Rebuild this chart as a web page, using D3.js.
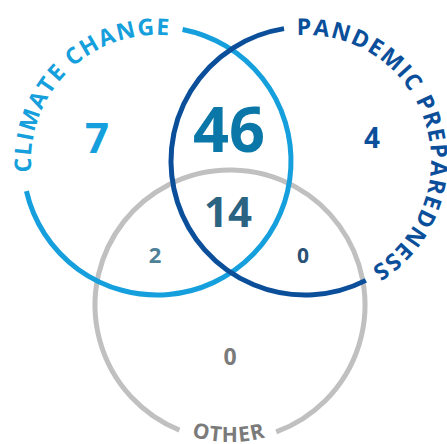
<!DOCTYPE html>
<meta charset="utf-8">
<style>
body { margin: 0; background: #fff; }
svg { display: block; }
.set-label { font-family: "Open Sans", sans-serif; font-weight: 700; }
.count { font-family: "Open Sans", sans-serif; font-weight: 700; text-anchor: middle; }
</style>
<svg width="447" height="444"></svg>
<script src="https://d3js.org/d3.v7.min.js"></script>
<script>
// sets and region counts
var setNames = ["CLIMATE CHANGE", "PANDEMIC PREPAREDNESS", "OTHER"];
var setColors = ["#159fdc", "#0b4f9b", "#c0c0c0"];
var labelColors = ["#159fdc", "#0b4f9b", "#7a7a7a"];
var regionKeys = ["C", "P", "O", "CP", "CO", "PO", "CPO"];
var regionCounts = [7, 4, 0, 46, 2, 0, 14];

var svg = d3.select("svg");
var deg = Math.PI / 180;

// circle geometry (centre, radius, gap in the ring where the label sits)
var circles = [
  {cx: 157, cy: 161, r: 134, gap: [167, 281], text: [225.5, -8], cw: true},
  {cx: 305, cy: 161, r: 134, gap: [261, 423], text: [342.5, -8], cw: true},
  {cx: 230, cy: 305, r: 135, gap: [70, 112], text: [90.5, 2], cw: false}
];

// where each region's number goes, and how big
var regionLayout = {
  C:   {x: 97,  y: 153, size: 42, color: "#159fdc"},
  P:   {x: 372, y: 148, size: 28, color: "#0b4f9b"},
  O:   {x: 230, y: 365, size: 23, color: "#7b7b7b"},
  CP:  {x: 229, y: 152, size: 63, color: "#0a77a8"},
  CO:  {x: 155, y: 263, size: 22, color: "#4e8198"},
  PO:  {x: 303, y: 263, size: 21, color: "#2a5276"},
  CPO: {x: 228, y: 227, size: 42, color: "#2b6382"}
};

var order = [2, 0, 1]; // grey under, dark blue on top

order.forEach(function(i) {
  var c = circles[i];
  var p = d3.path();
  p.arc(c.cx, c.cy, c.r, c.gap[1] * deg, (c.gap[0] + 360) * deg, false);
  svg.append("path")
      .attr("d", p.toString())
      .attr("fill", "none")
      .attr("stroke", setColors[i])
      .attr("stroke-width", 5);
});

circles.forEach(function(c, i) {
  var rb = c.r + c.text[1];
  var p = d3.path();
  if (c.cw) {
    p.arc(c.cx, c.cy, rb, (c.text[0] - 90) * deg, (c.text[0] + 90) * deg, false);
  } else {
    p.arc(c.cx, c.cy, rb, (c.text[0] + 90) * deg, (c.text[0] - 90) * deg, true);
  }
  svg.append("path")
      .attr("id", "lp" + i)
      .attr("d", p.toString())
      .attr("fill", "none");
  svg.append("text")
      .attr("class", "set-label")
      .attr("font-size", i == 2 ? 21 : 23)
      .attr("letter-spacing", i == 2 ? 1 : 1.5)
      .attr("fill", labelColors[i])
    .append("textPath")
      .attr("href", "#lp" + i)
      .attr("startOffset", "50%")
      .attr("text-anchor", "middle")
      .text(setNames[i]);
});

svg.selectAll(".count")
  .data(regionKeys)
  .enter().append("text")
    .attr("class", "count")
    .attr("x", function(k) { return regionLayout[k].x; })
    .attr("y", function(k) { return regionLayout[k].y; })
    .attr("font-size", function(k) { return regionLayout[k].size; })
    .attr("fill", function(k) { return regionLayout[k].color; })
    .text(function(k, i) { return regionCounts[i]; });
</script>
